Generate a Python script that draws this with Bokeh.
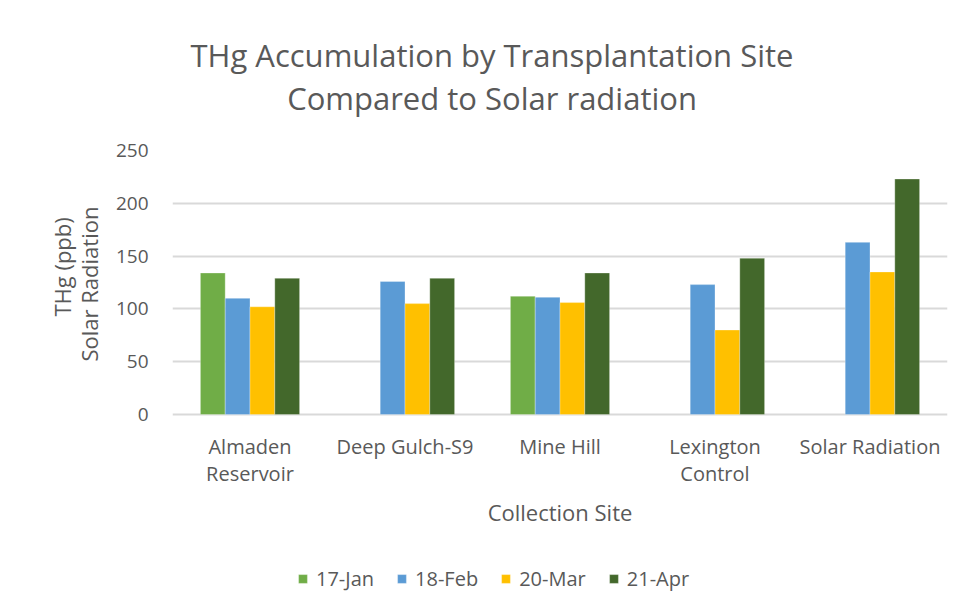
from bokeh.plotting import figure
from bokeh.models import FactorRange, Range1d, Legend, LegendItem, ColumnDataSource, FixedTicker, Title
from bokeh.core.properties import value
from bokeh.transform import dodge
from bokeh.embed import file_html
from bokeh.resources import INLINE
import numpy as np

title_lines = ["THg Accumulation by Transplantation Site", "Compared to Solar radiation"]
sites = ["Almaden\nReservoir", "Deep Gulch-S9", "Mine Hill", "Lexington\nControl", "Solar Radiation"]
series_names = ["17-Jan", "18-Feb", "20-Mar", "21-Apr"]
jan17 = [134, np.nan, 112, np.nan, np.nan]
feb18 = [110, 126, 111, 123, 163]
mar20 = [102, 105, 106, 80, 135]
apr21 = [129, 129, 134, 148, 223]
y_ticks = [0, 50, 100, 150, 200, 250]
x_title = "Collection Site"
y_title_lines = ["THg (ppb)", "Solar Radiation"]
colors = ["#70AD47", "#5B9BD5", "#FFC000", "#43682B"]

FONT = "Open Sans"
TXT = "#595959"

# layout: value axis occupies 264 px for 0..250; the frame extends below to hold labels + legend
PX_PER_UNIT = 264 / 250
BELOW_PX = 186
y_lo = -BELOW_PX / PX_PER_UNIT

src = ColumnDataSource(dict(site=sites, s0=jan17, s1=feb18, s2=mar20, s3=apr21))

p = figure(frame_width=775, frame_height=264 + BELOW_PX, x_range=FactorRange(factors=sites, range_padding=0),
           y_range=Range1d(y_lo, max(y_ticks)), output_backend="svg", toolbar_location=None, title=None,
           min_border_left=172, min_border_right=8, min_border_top=150, min_border_bottom=0)

NB = "\u00a0"
title = Title(text=title_lines[0] + "\n" + NB * 12 + title_lines[1], align="left", text_font=FONT,
              text_font_size="31px", text_font_style="normal", text_color=TXT, offset=18,
              standoff=62, text_line_height=1.04)
p.add_layout(title, "above")

offsets = [-0.24, -0.08, 0.08, 0.24]
items = []
for i, (name, c) in enumerate(zip(series_names, colors)):
    r = p.vbar(x=dodge("site", offsets[i], range=p.x_range), top="s%d" % i, width=0.16,
               source=src, fill_color=c, line_color="white", line_width=0.5, line_alpha=0.6)
    items.append(LegendItem(label=name, renderers=[r]))

# category labels and x-axis title drawn below the zero line
p.text(x=sites, y=[-18 / PX_PER_UNIT] * len(sites), text=sites, text_align="center",
       text_baseline="top", text_font=value(FONT), text_font_size="20px", text_color=TXT,
       text_line_height=1.02)
p.text(x=[sites[2]], y=[-97 / PX_PER_UNIT], text=[x_title], text_align="center",
       text_baseline="middle", text_font=value(FONT), text_font_size="22px", text_color=TXT)

p.outline_line_color = None
p.xgrid.grid_line_color = None
p.ygrid.grid_line_color = "#D9D9D9"
p.ygrid.grid_line_width = 2
p.yaxis.ticker = FixedTicker(ticks=y_ticks)
p.yaxis.bounds = (0, max(y_ticks))
p.xaxis.visible = False

ax = p.yaxis
ax.axis_line_color = None
ax.major_tick_line_color = None
ax.minor_tick_line_color = None
ax.major_label_text_font = FONT
ax.major_label_text_color = TXT
ax.major_label_text_font_size = "19px"
# leading no-break spaces lift the rotated label so it sits beside the 0-250 value range
ax.axis_label = NB * 38 + y_title_lines[0] + "\n" + NB * 32 + y_title_lines[1]
ax.axis_label_text_font = FONT
ax.axis_label_text_color = TXT
ax.axis_label_text_font_style = "normal"
ax.axis_label_text_font_size = "22px"
ax.axis_label_text_line_height = 0.9
ax.major_label_standoff = 18
ax.axis_label_standoff = 9

legend = Legend(items=items, orientation="horizontal", location=(125, 8),
                label_text_font=FONT, label_text_color=TXT, label_text_font_size="20px",
                glyph_width=11, glyph_height=11, spacing=22, border_line_color=None,
                background_fill_alpha=0, margin=0, padding=0, label_standoff=8)
p.add_layout(legend, "center")

open("out.html", "w").write(file_html(p, INLINE))
